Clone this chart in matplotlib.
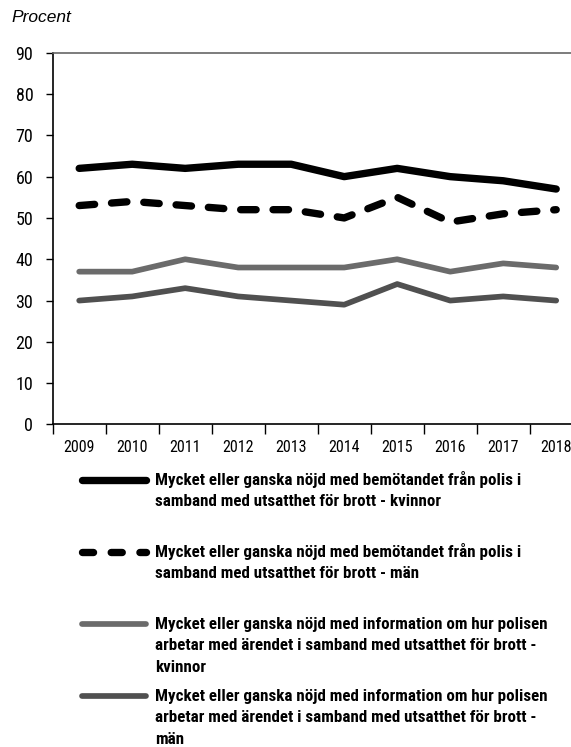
import matplotlib
matplotlib.use("Agg")
import matplotlib.pyplot as plt
from matplotlib import font_manager
from matplotlib.lines import Line2D

years = ["2009", "2010", "2011", "2012", "2013", "2014", "2015", "2016", "2017", "2018"]
bemot_kvinnor = [62, 63, 62, 63, 63, 60, 62, 60, 59, 57]
bemot_man = [53, 54, 53, 52, 52, 50, 55, 49, 51, 52]
info_kvinnor = [37, 37, 40, 38, 38, 38, 40, 37, 39, 38]
info_man = [30, 31, 33, 31, 30, 29, 34, 30, 31, 30]

labels = [
    "Mycket eller ganska nöjd med bemötandet från polis i\nsamband med utsatthet för brott - kvinnor",
    "Mycket eller ganska nöjd med bemötandet från polis i\nsamband med utsatthet för brott - män",
    "Mycket eller ganska nöjd med information om hur polisen\narbetar med ärendet i samband med utsatthet för brott -\nkvinnor",
    "Mycket eller ganska nöjd med information om hur polisen\narbetar med ärendet i samband med utsatthet för brott -\nmän",
]

W, H = 571, 747


def pick_narrow_font():
    """Look for a condensed sans; fall back to plain DejaVu."""
    entries = font_manager.fontManager.ttflist
    names = {f.name for f in entries}
    for name in ("Liberation Sans Narrow", "Roboto Condensed", "Open Sans Condensed",
                 "Noto Sans Condensed", "DejaVu Sans Condensed", "Arial Narrow"):
        if name in names:
            return name, "normal"
    for fam in ("Noto Sans", "Roboto", "DejaVu Sans", "Open Sans"):
        for f in entries:
            if f.name == fam and "condensed" in str(f.stretch):
                return fam, "condensed"
    return "DejaVu Sans", "normal"


NARROW, STRETCH = pick_narrow_font()

styles = [
    dict(color="black", lw=5.3, ls="-", leg_ls="-"),
    dict(color="black", lw=5.3, ls=(0, (2.1, 2.3)), leg_ls=(0, (1.5, 2.4))),
    dict(color="#6b6b6b", lw=4.1, ls="-", leg_ls="-"),
    dict(color="#505050", lw=4.1, ls="-", leg_ls="-"),
]
series = [bemot_kvinnor, bemot_man, info_kvinnor, info_man]

fig = plt.figure(figsize=(W / 100, H / 100), dpi=100)
# axes deliberately runs past the right edge, like the cropped original
ax = fig.add_axes([52.7 / W, 1 - 424.5 / H, 530 / W, (424.5 - 52.7) / H])

x = list(range(len(years)))
for vals, st in zip(series, styles):
    ax.plot(x, vals, color=st["color"], lw=st["lw"], ls=st["ls"],
            solid_capstyle="round", dash_capstyle="round", solid_joinstyle="round")

ax.set_xlim(-0.5, len(years) - 0.5)
ax.set_ylim(0, 90)
ax.set_yticks(range(0, 91, 10))
ax.set_xticks([i - 0.5 for i in range(len(years))])
ax.set_xticklabels([])
ax.set_xticks(x, minor=True)
ax.set_xticklabels(years, minor=True)
ax.tick_params(axis="x", which="major", direction="out", length=7, width=1)
ax.tick_params(axis="x", which="minor", length=0, pad=11)
ax.tick_params(axis="y", direction="out", length=5, width=1, pad=9)
for lab in ax.get_xticklabels(minor=True):
    lab.set_family(NARROW)
    lab.set_stretch(STRETCH)
    lab.set_fontsize(11.5)
for lab in ax.get_yticklabels():
    lab.set_family(NARROW)
    lab.set_stretch(STRETCH)
    lab.set_fontsize(13)

ax.spines["right"].set_visible(False)
ax.spines["top"].set_color("#666666")
ax.spines["top"].set_linewidth(1.2)
for s in ("left", "bottom"):
    ax.spines[s].set_linewidth(1.2)

fig.text(11 / W, 1 - 18 / H, "Procent", fontsize=12.5, style="italic",
         family="Liberation Sans", va="center", ha="left")

# legend drawn by hand: handle next to first line of each label
entry_y = [480, 552, 624, 696]
line_step = 22
legend_texts = []
for lab, st, y0 in zip(labels, styles, entry_y):
    yf = 1 - y0 / H
    fig.add_artist(Line2D([82 / W, 146 / W], [yf, yf], transform=fig.transFigure,
                          color=st["color"], lw=st["lw"], ls=st["leg_ls"],
                          solid_capstyle="round", dash_capstyle="round"))
    for k, part in enumerate(lab.split("\n")):
        t = fig.text(155 / W, 1 - (y0 + k * line_step) / H, part, fontsize=11.5,
                     fontweight="bold", family=NARROW, stretch=STRETCH,
                     va="center", ha="left")
        legend_texts.append(t)

# size the narrow text so widths match the original layout
fig.canvas.draw()
r = fig.canvas.get_renderer()
ref = legend_texts[4]  # "Mycket ... information om hur polisen"
scale = 392 / ref.get_window_extent(r).width
for t in legend_texts:
    t.set_fontsize(min(14, t.get_fontsize() * scale))

fig.savefig("out.png", dpi=100)
